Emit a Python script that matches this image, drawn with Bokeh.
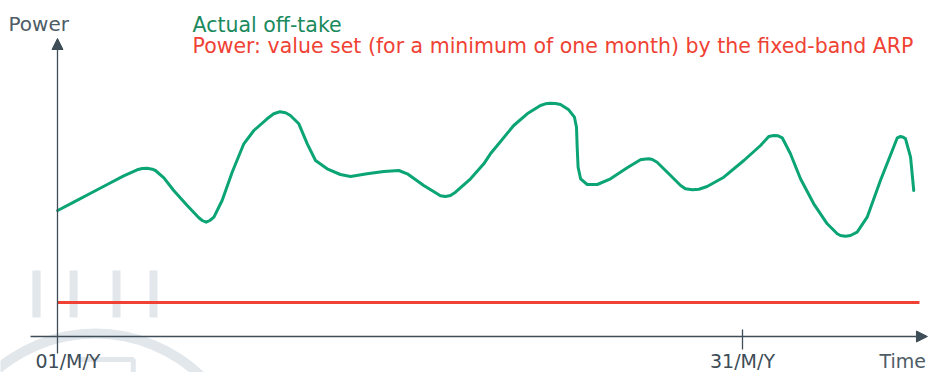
from bokeh.plotting import figure
from bokeh.models import Range1d, Arrow, NormalHead, Label
from bokeh.embed import file_html
from bokeh.resources import INLINE

# Actual off-take over the month (day of month, power in arbitrary units)
day = [1.01, 1.71, 2.45, 3.18, 3.90, 4.49, 4.71, 4.93, 5.15, 5.29, 5.66, 6.09,
       6.68, 7.19, 7.34, 7.51, 7.67, 7.85, 8.21, 8.65, 9.16, 9.60, 10.18,
       10.47, 10.74, 10.99, 11.20, 11.57, 11.94, 12.30, 12.81, 13.39, 13.83,
       14.56, 15.29, 15.95, 16.32, 17.04, 17.63, 17.77, 17.99, 18.21, 18.43,
       19.09, 19.67, 19.96, 20.26, 20.98, 21.57, 22.15, 22.37, 22.59, 22.81,
       23.03, 23.39, 23.64, 23.73, 23.76, 23.80, 23.91, 24.20, 24.64, 25.22,
       25.95, 26.53, 26.68, 26.90, 27.05, 27.26, 27.85, 28.29, 28.50, 28.80,
       29.09, 29.45, 30.18, 31.06, 31.79, 32.15, 32.37, 32.56, 32.74, 33.10,
       33.54, 34.12, 34.71, 35.15, 35.29, 35.51, 35.73, 36.02, 36.46, 37.04,
       37.56, 37.78, 37.92, 38.04, 38.14, 38.36, 38.50]
offtake = [12.60, 13.43, 14.33, 15.20, 16.07, 16.67, 16.80, 16.83, 16.73, 16.60,
           15.87, 14.60, 13.10, 11.87, 11.60, 11.43, 11.60, 11.93, 13.60, 16.43,
           19.27, 20.60, 21.77, 22.27, 22.47, 22.37, 22.10, 21.27, 19.27, 17.60,
           16.77, 16.20, 16.00, 16.27, 16.50, 16.60, 16.27, 15.10, 14.27, 14.07,
           14.00, 14.10, 14.43, 15.77, 17.27, 18.27, 19.10, 21.10, 22.27, 23.10,
           23.27, 23.33, 23.30, 23.20, 22.67, 21.93, 20.93, 18.93, 16.93, 15.77,
           15.20, 15.20, 15.77, 16.87, 17.67, 17.73, 17.77, 17.70, 17.43, 16.10,
           15.10, 14.77, 14.67, 14.73, 15.00, 15.93, 17.60, 19.10, 20.00, 20.10,
           20.07, 19.87, 18.27, 15.77, 13.27, 11.27, 10.27, 10.10, 10.03, 10.10,
           10.43, 11.93, 15.60, 18.60, 19.87, 20.00, 19.93, 19.77, 17.93, 14.60]

# Fixed-band power value
band_days = [1.0, 38.75]
band_power = [3.4, 3.4]

# Time axis ticks
tick_days = [1, 31]
tick_labels = ["01/M/Y", "31/M/Y"]

W, H = 928, 372
FONT = "DejaVu Sans"
AXIS = "#3e4d57"
WATERMARK = "#e2e7ec"
GREEN_LINE = "#0ba474"
GREEN_TEXT = "#1b8a5d"
RED = "#ef4234"
BASE_SHIFT = 5  # label baseline correction in pixels

p = figure(width=W, height=H, x_range=Range1d(-1.496, 39.146),
           y_range=Range1d(-3.6, 33.6), output_backend="svg",
           toolbar_location=None, min_border=0,
           x_axis_location=None, y_axis_location=None)
p.grid.visible = False
p.outline_line_color = None
p.background_fill_color = "white"
p.border_fill_color = "white"

# faint logo watermark behind the chart
for left, right in [(-0.1, 0.26), (1.53, 1.88), (3.41, 3.76), (5.03, 5.38)]:
    p.quad(left=left, right=right, bottom=1.9, top=6.6,
           fill_color=WATERMARK, line_color=None)
p.annulus(x=2.66, y=-14.9, inner_radius=147, outer_radius=157,
          inner_radius_units="screen", outer_radius_units="screen",
          fill_color=WATERMARK, line_color=None)
p.line(x=[1.88, 4.32, 4.32], y=[-2.3, -2.3, -3.7], line_color=WATERMARK,
       line_width=5)

# axes drawn as arrows crossing at the origin
p.add_layout(Arrow(x_start=1, y_start=-1.7, x_end=1, y_end=29.8,
                   line_color=AXIS, line_width=1.3,
                   end=NormalHead(size=11, fill_color=AXIS, line_color=AXIS)))
p.add_layout(Arrow(x_start=-0.18, y_start=0, x_end=39.1, y_end=0,
                   line_color=AXIS, line_width=1.3,
                   end=NormalHead(size=11, fill_color=AXIS, line_color=AXIS)))
p.segment(x0=tick_days[1:], y0=[0.7], x1=tick_days[1:], y1=[-1.3],
          line_color=AXIS, line_width=1.3)

p.line(band_days, band_power, line_color=RED, line_width=3)
p.line(day, offtake, line_color=GREEN_LINE, line_width=3,
       line_join="round", line_cap="round")

def screen_label(text, x, y, color, size, **kw):
    p.add_layout(Label(text=text, x=x, y=H - y + BASE_SHIFT, x_units="screen",
                       y_units="screen", text_color=color,
                       text_font=FONT, text_font_size=size,
                       text_baseline="alphabetic", **kw))

screen_label("Power", 8, 28, "#4e5c66", "20px")
screen_label("Actual off-take", 192, 29, GREEN_TEXT, "20.5px")
screen_label("Power: value set (for a minimum of one month) by the fixed-band ARP",
             192, 50, RED, "20.5px")
screen_label("Time", 879, 365, "#4e5c66", "19px")

p.add_layout(Label(text=tick_labels[0], x=tick_days[0], y=H - 365 + BASE_SHIFT,
                   x_units="data", y_units="screen", x_offset=-22,
                   text_color=AXIS, text_font=FONT, text_font_size="19px",
                   text_baseline="alphabetic"))
p.add_layout(Label(text=tick_labels[1], x=tick_days[1], y=H - 365 + BASE_SHIFT,
                   x_units="data", y_units="screen", text_align="center",
                   text_color=AXIS, text_font=FONT, text_font_size="19px",
                   text_baseline="alphabetic"))

open("out.html", "w").write(file_html(p, INLINE))
